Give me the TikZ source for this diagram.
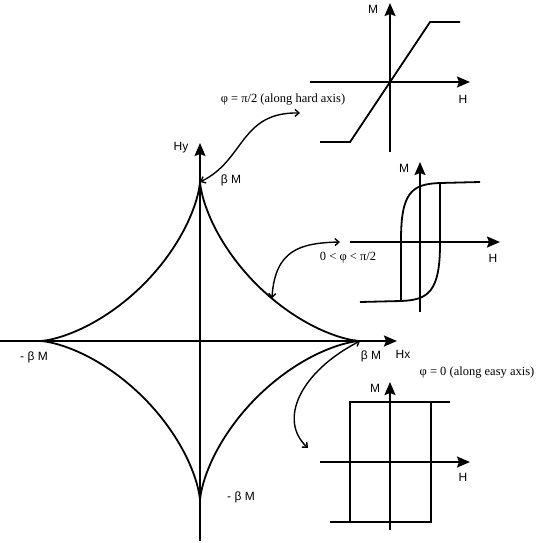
\documentclass[tikz,border=0pt]{standalone}
\usepackage{fontspec}
\setmainfont{Liberation Serif}
\setsansfont{Liberation Sans}
\usetikzlibrary{arrows.meta,positioning,calc}

\begin{document}
\begin{tikzpicture}[x=1pt,y=-1pt,
    axis/.style={line width=1.9pt,-{Stealth[length=13pt,width=11pt,inset=2pt]}},
    curve/.style={line width=1.8pt},
    pointer/.style={line width=1.4pt,{Straight Barb[length=4pt,width=7pt]}-{Straight Barb[length=4pt,width=7pt]}},
    lbl/.style={font=\sffamily\fontsize{12}{13}\selectfont,inner sep=1pt},
    case/.style={font=\rmfamily\fontsize{12.5}{14}\selectfont,inner sep=1pt},
  ]
    \useasboundingbox (0,0) rectangle (538,543);

    % main astroid
    \coordinate (o) at (200,341);
    \coordinate (top) at (200,182);
    \coordinate (rgt) at (360,341);
    \draw[axis] (0,341) -- (397,341);
    \draw[axis] (200,541) -- (200,143);
    \draw[curve] plot[domain=0:360,samples=241,smooth]
      ({200+160*cos(\x)^3},{341+160*sin(\x)^3});
    \coordinate (side) at ({200+160*cos(-40)^3},{341+160*sin(-40)^3});
    \node[lbl] (hy) at (181,148) {Hy};
    \node[lbl] (hx) at (403,354) {Hx};
    \node[lbl] (bmtop) at (231,180) {β M};
    \node[lbl] (bmrgt) at (371,356) {β M};
    \node[lbl] (bmlft) at (34,357) {- β M};
    \node[lbl] (bmbot) at (241,497) {- β M};

    % hard axis
    \draw[axis] (310,82) -- (470,82);
    \draw[axis] (390,152) -- (390,3);
    \draw[curve] (320,142) -- (350,142) -- (430,22) -- (460,22);
    \node[lbl] (mhard) at (373,9) {M};
    \node[lbl] (hhard) at (463,99) {H};
    \node[case] (hard) at (283,100) {φ = π/2 (along hard axis)};

    % intermediate angle
    \draw[axis] (350,242) -- (500,242);
    \draw[axis] (420,312) -- (420,162);
    \draw[curve] (360,302) -- (401,301) -- (401,240)
      .. controls (401,192) and (412,184) .. (440,183) -- (480,182);
    \draw[curve] (440,183) -- (440,244)
      .. controls (440,292) and (428,300) .. (401,301);
    \node[lbl] (mmid) at (404,168) {M};
    \node[lbl] (hmid) at (493,258) {H};
    \node[case] (mid) at (348,258) {0 < φ < π/2};

    % easy axis
    \draw[axis] (320,462) -- (470,462);
    \draw[axis] (390,530) -- (390,382);
    \draw[curve] (450,402) -- (350,402) -- (350,522);
    \draw[curve] (330,522) -- (431,522) -- (431,402);
    \node[lbl] (measy) at (375,388) {M};
    \node[lbl] (heasy) at (463,477) {H};
    \node[case] (easy) at (477,373) {φ = 0 (along easy axis)};

    % pointers
    \coordinate (hardend) at (300,113);
    \coordinate (midend) at (340,242);
    \coordinate (easyend) at (308,448);
    \draw[pointer] (top) .. controls (245,160) and (240,112) .. (hardend);
    \draw[pointer] (side) .. controls (275,250) and (300,243) .. (midend);
    \draw[pointer] (rgt) .. controls (300,372) and (278,420) .. (easyend);
  \end{tikzpicture}
\end{document}
